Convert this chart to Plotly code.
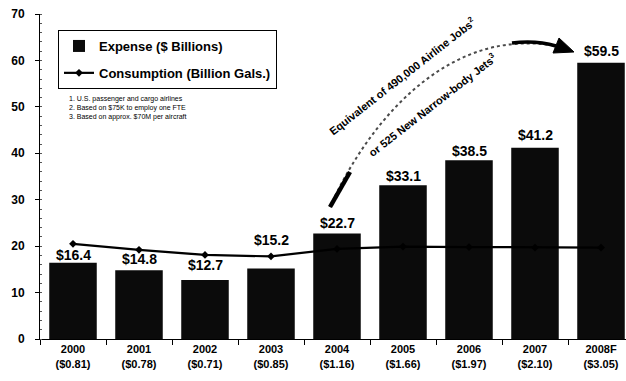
import plotly.graph_objects as go

# Airline fuel expense and consumption, 2000-2008F
years = ["2000", "2001", "2002", "2003", "2004", "2005", "2006", "2007", "2008F"]
price_per_gal = ["$0.81", "$0.78", "$0.71", "$0.85", "$1.16", "$1.66", "$1.97", "$2.10", "$3.05"]
expense_bn = [16.4, 14.8, 12.7, 15.2, 22.7, 33.1, 38.5, 41.2, 59.5]
consumption_bn_gal = [20.5, 19.2, 18.1, 17.8, 19.4, 19.9, 19.8, 19.7, 19.7]
footnotes = [
    "1. U.S. passenger and cargo airlines",
    "2. Based on $75K to employ one FTE",
    "3. Based on approx. $70M per aircraft",
]

# pixel offsets lifting each value label above its bar
label_lift = [7, 10, 14, 27, 10, 8, 8, 12, 11]

W, H = 626, 381
L, R, T, B = 40, 0, 14, 42
PW, PH = W - L - R, H - T - B
FONT = "Arial, Liberation Sans, sans-serif"

# category labels: year over average price per gallon
categories = [f"{y}<br>({p})" for y, p in zip(years, price_per_gal)]


def px(x, y):
    """Page pixel -> paper coordinates."""
    return (x - L) / PW, (H - B - y) / PH


def pt(x, y):
    a, b = px(x, y)
    return f"{a:.5f},{b:.5f}"


fig = go.Figure()
fig.add_trace(go.Bar(
    x=categories, y=expense_bn, name="Expense ($ Billions)",
    marker=dict(color="#0b0b0b", line=dict(width=0)), width=0.72,
    legendgroup="a",
))
fig.add_trace(go.Scatter(
    x=categories, y=consumption_bn_gal, name="Consumption (Billion Gals.)",
    mode="lines+markers", line=dict(color="black", width=2.2),
    marker=dict(symbol="diamond", size=6, color="black"),
    legendgroup="b",
))

annotations = []
for cat, v, lift in zip(categories, expense_bn, label_lift):
    annotations.append(dict(
        x=cat, y=v, xref="x", yref="y", text=f"${v}", showarrow=False,
        yanchor="middle", yshift=lift + 1,
        font=dict(family=FONT, size=14, color="black", weight="bold"),
    ))

for i, note in enumerate(footnotes):
    fx, fy = px(67, 99 + 9 * i)
    annotations.append(dict(
        x=fx, y=fy, xref="paper", yref="paper", text=note, showarrow=False,
        xanchor="left", yanchor="middle",
        font=dict(family=FONT, size=7, color="black"),
    ))

# callout text along the arc
for txt, cx, cy in [
    ("Equivalent of 490,000 Airline Jobs<sup>2</sup>", 402, 76),
    ("or 525 New Narrow-body Jets<sup>3</sup>", 432, 105),
]:
    ax_, ay_ = px(cx, cy)
    annotations.append(dict(
        x=ax_, y=ay_, xref="paper", yref="paper", text=txt, showarrow=False,
        textangle=-38, xanchor="center", yanchor="middle",
        font=dict(family=FONT, size=11, color="black", weight="bold"),
    ))

shapes = [
    # thin speckled arc
    dict(type="path", xref="paper", yref="paper",
         path=f"M{pt(330, 207)} C{pt(362, 135)} {pt(440, 25)} {pt(556, 46)}",
         line=dict(color="#4a4a4a", width=2, dash="dot")),
    # heavy foot of the arc
    dict(type="path", xref="paper", yref="paper",
         path=f"M{pt(330, 207)} L{pt(350, 172)}",
         line=dict(color="black", width=4.5)),
    # heavy head of the arc
    dict(type="path", xref="paper", yref="paper",
         path=f"M{pt(512, 43)} Q{pt(536, 40)} {pt(556, 46)}",
         line=dict(color="black", width=3.5)),
    # arrowhead
    dict(type="path", xref="paper", yref="paper",
         path=f"M{pt(574, 52)} L{pt(553, 53)} L{pt(559, 38)} Z",
         fillcolor="black", line=dict(color="black", width=1)),
]

lx, ly = px(58, 30)

fig.update_layout(
    width=W, height=H,
    margin=dict(l=L, r=R, t=T, b=B, pad=0),
    paper_bgcolor="white", plot_bgcolor="white",
    font=dict(family=FONT, color="black"),
    showlegend=True,
    legend=dict(
        x=lx, y=ly, xanchor="left", yanchor="top",
        bordercolor="black", borderwidth=1, bgcolor="white",
        font=dict(family=FONT, size=13, color="black", weight="bold"),
        traceorder="grouped", tracegroupgap=7,
        itemwidth=30,
    ),
    xaxis=dict(
        type="category", range=[-0.5, 8.5 - (L + 66 * 9 - W) / 66],
        tickson="boundaries", ticks="outside", ticklen=5, tickwidth=1, tickcolor="black",
        showline=True, linecolor="black", linewidth=1,
        showgrid=False, zeroline=False,
        tickfont=dict(family=FONT, size=11, color="black", weight="bold"),
    ),
    yaxis=dict(
        range=[0, 70], dtick=10, tick0=0,
        ticks="outside", ticklen=4, tickwidth=1, tickcolor="black",
        minor=dict(ticks="inside", ticklen=2, dtick=2, tickcolor="#555"),
        showline=True, linecolor="black", linewidth=1,
        showgrid=False, zeroline=False, ticklabelstandoff=8,
        tickfont=dict(family=FONT, size=12, color="black", weight="bold"),
    ),
    annotations=annotations,
    shapes=shapes,
)

fig.write_html("out.html")
